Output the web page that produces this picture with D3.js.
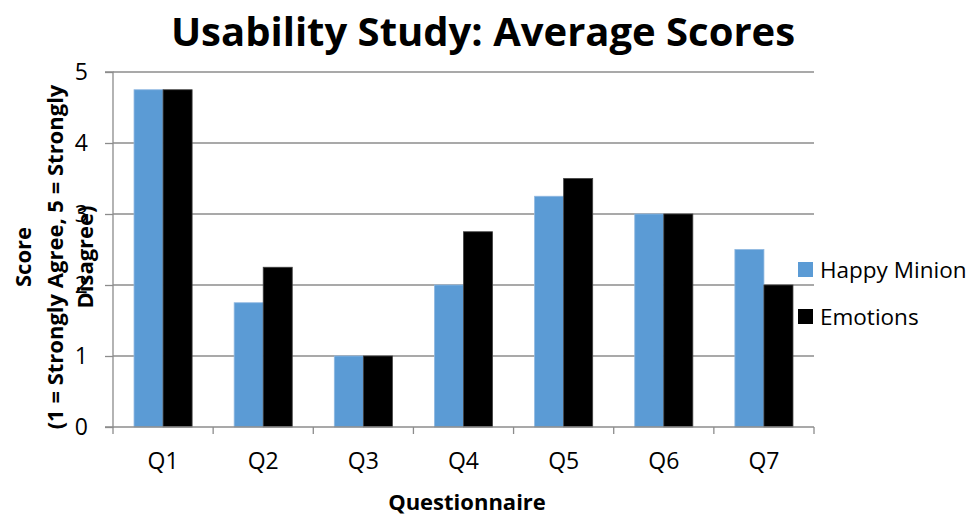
<!DOCTYPE html>
<html><head><meta charset="utf-8">
<script src="https://cdn.jsdelivr.net/npm/d3@7"></script>
<style>body{margin:0;background:#fff}svg{display:block}text{font-family:"Open Sans",sans-serif}</style>
</head><body>
<svg id="c" width="976" height="515"></svg>
<script>
const categories = ["Q1","Q2","Q3","Q4","Q5","Q6","Q7"];
const seriesNames = ["Happy Minion","Emotions"];
const happyMinion = [4.75,1.75,1,2,3.25,3,2.5];
const emotions = [4.75,2.25,1,2.75,3.5,3,2];
const yTicks = [0,1,2,3,4,5];
const colors = ["#5B9BD5","#000000"];

const svg = d3.select("#c");
const m = {l:113, r:814, t:72, b:427};
const x0 = d3.scaleBand().domain(categories).range([m.l,m.r]).paddingInner(0.42).paddingOuter(0.21);
const x1 = d3.scaleBand().domain(seriesNames).range([0,x0.bandwidth()]);
const y = d3.scaleLinear().domain([0,5]).range([m.b,m.t]);

// gridlines
svg.append("g").selectAll("line").data(yTicks.filter(d=>d>0)).join("line")
  .attr("x1",m.l).attr("x2",m.r).attr("y1",d=>y(d)).attr("y2",d=>y(d))
  .attr("stroke","#8c8c8c").attr("stroke-width",1.3);

// bars
const data = categories.map((c,i)=>({c, vals:[happyMinion[i],emotions[i]]}));
const g = svg.append("g").selectAll("g").data(data).join("g").attr("transform",d=>`translate(${x0(d.c)},0)`);
g.selectAll("rect").data(d=>d.vals.map((v,k)=>({k,v}))).join("rect")
  .attr("x",d=>x1(seriesNames[d.k])).attr("width",x1.bandwidth())
  .attr("y",d=>y(d.v)).attr("height",d=>y(0)-y(d.v))
  .attr("fill",d=>colors[d.k])
  .attr("stroke",d=>d.k===0?"#8fb8e0":"#404040").attr("stroke-width",0.8);

// y axis
const ya = svg.append("g").attr("transform",`translate(${m.l},0)`)
  .call(d3.axisLeft(y).tickValues(yTicks).tickSize(8).tickPadding(8).tickFormat(d3.format("d")));
ya.select(".domain").attr("stroke","#8c8c8c").attr("stroke-width",1.3).attr("d",`M-8,${m.t}H0V${m.b}H-8`);
ya.selectAll(".tick line").attr("stroke","#8c8c8c").attr("stroke-width",1.3);
ya.selectAll(".tick text").attr("font-size",23).attr("fill","#000").attr("font-family","'Open Sans',sans-serif").attr("x",-25);

// x axis
const xa = svg.append("g").attr("transform",`translate(0,${m.b})`)
  .call(d3.axisBottom(x0).tickSize(0).tickPadding(26));
xa.select(".domain").attr("stroke","#8c8c8c").attr("stroke-width",1.3).attr("d",`M${m.l},0H${m.r}`);
xa.selectAll(".tick text").attr("font-size",23).attr("fill","#000").attr("font-family","'Open Sans',sans-serif");
const step = x0.step();
svg.append("g").selectAll("line").data(d3.range(categories.length+1)).join("line")
  .attr("x1",i=>m.l+i*step).attr("x2",i=>m.l+i*step).attr("y1",m.b).attr("y2",m.b+7)
  .attr("stroke","#8c8c8c").attr("stroke-width",1.3);

// title
svg.append("text").attr("x",483).attr("y",46).attr("text-anchor","middle")
  .attr("font-size",40).attr("font-weight","bold").text("Usability Study: Average Scores");

// x title
svg.append("text").attr("x",467).attr("y",510).attr("text-anchor","middle")
  .attr("font-size",22).attr("font-weight","bold").text("Questionnaire");

// y title
const yt = svg.append("text").attr("transform","translate(0,257) rotate(-90)").attr("text-anchor","middle")
  .attr("font-size",22).attr("font-weight","bold");
yt.append("tspan").attr("x",0).attr("y",31).text("Score");
yt.append("tspan").attr("x",0).attr("y",63).text("(1 = Strongly Agree, 5 = Strongly");
yt.append("tspan").attr("x",0).attr("y",93).text("Disagree)");

// legend
const lg = svg.append("g").selectAll("g").data(seriesNames).join("g")
  .attr("transform",(d,i)=>`translate(798,${262+i*47})`);
lg.append("rect").attr("width",15).attr("height",15).attr("fill",(d,i)=>colors[i]);
lg.append("text").attr("x",22).attr("y",16).attr("font-size",22.5).text(d=>d);
</script>
</body></html>
